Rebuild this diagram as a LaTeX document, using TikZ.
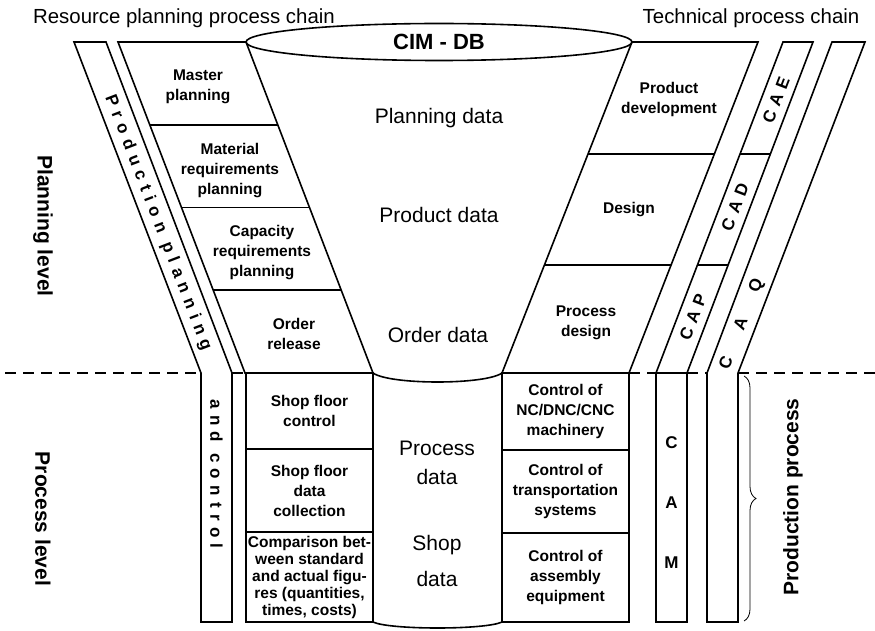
\documentclass[tikz,border=0pt]{standalone}
\usepackage{fontspec}
\setmainfont{Liberation Sans}
\usetikzlibrary{calc,positioning,shapes.geometric,decorations.pathreplacing}

\begin{document}
\begin{tikzpicture}[x=1pt,y=-1pt,line width=1.6pt,
      cell/.style={align=center,inner sep=0pt,
        font=\bfseries\fontsize{15.5}{20}\selectfont},
      cellbox/.style={cell,draw,outer sep=0pt,minimum width=127pt},
      datalbl/.style={align=center,font=\fontsize{21}{25}\selectfont},
      chainlbl/.style={anchor=base,font=\fontsize{20.4}{24}\selectfont},
      levellbl/.style={font=\bfseries\fontsize{21}{24}\selectfont},
      striplbl/.style={inner sep=0pt,
        font=\bfseries\fontsize{17}{20}\selectfont\addfontfeature{LetterSpace=37}},
      levelline/.style={dash pattern=on 11pt off 7pt}
    ]
      \useasboundingbox (0,0) rectangle (875,631);
      \node[chainlbl] (rpc) at (184,23.5) {Resource planning process chain};
      \node[chainlbl] (tpc) at (751,23.5) {Technical process chain};

      \node[draw,ellipse,outer sep=0pt,minimum width=386pt,minimum height=37pt,
        font=\bfseries\fontsize{22}{26}\selectfont] (cimdb) at (439,42) {CIM - DB};
      \coordinate (fl) at (373,373);
      \coordinate (fr) at (502,373);
      \draw (cimdb.west) -- (fl) .. controls (390,385) and (485,385) .. (fr) -- (cimdb.east);

      \coordinate (lt) at (118,42);
      \coordinate (lb) at (245,373);
      \draw (fl) -- (lb) -- (lt) -- (cimdb.west);
      \foreach \t in {0.25,0.5,0.75}
        \draw ($(lt)!\t!(lb)$) -- ($(cimdb.west)!\t!(fl)$);
      \node[cell] (mp) at (198,87) {Master\\planning};
      \node[cell] (mrp) at (230,171) {Material\\requirements\\planning};
      \node[cell] (crp) at (262,253) {Capacity\\requirements\\planning};
      \node[cell] (orel) at (294,334) {Order\\release};

      \coordinate (rt) at (758,42);
      \coordinate (rb) at (629,373);
      \draw (cimdb.east) -- (rt) -- (rb) -- (fr);
      \foreach \t in {0.338,0.674}
        \draw ($(cimdb.east)!\t!(fr)$) -- ($(rt)!\t!(rb)$);
      \node[cell] (pdev) at (669,99) {Product\\development};
      \node[cell] (dsgn) at (629,210) {Design};
      \node[cell] (pdsg) at (586,323) {Process\\design};

      \node[cellbox,minimum height=76pt,anchor=north west] (sfc) at (246,373)
        {Shop floor\\control};
      \node[cellbox,minimum height=83pt,below=0pt of sfc] (sfdc)
        {Shop floor\\data\\collection};
      \node[cellbox,minimum height=90pt,below=0pt of sfdc,
        font=\bfseries\fontsize{15.5}{17}\selectfont] (cmp)
        {Comparison bet-\\ween standard\\and actual figu-\\res (quantities,\\times, costs)};
      \node[cellbox,minimum height=77pt,anchor=north west] (ncm) at (502,373)
        {Control of\\NC/DNC/CNC\\machinery};
      \node[cellbox,minimum height=83pt,below=0pt of ncm] (trs)
        {Control of\\transportation\\systems};
      \node[cellbox,minimum height=89pt,below=0pt of trs] (asm)
        {Control of\\assembly\\equipment};
      \draw (cmp.south east) .. controls (390,630) and (485,630) .. (asm.south west);

      \node[datalbl] (pld) at (439,118) {Planning data};
      \node[datalbl] (prdd) at (439,215) {Product data};
      \node[datalbl] (odd) at (438,335) {Order data};
      \node[datalbl,font=\fontsize{21}{29}\selectfont] (psd) at (437,463) {Process\\data};
      \node[datalbl,font=\fontsize{21}{36}\selectfont] (shd) at (437,561) {Shop\\data};

      \coordinate (ppa) at (74,42);
      \coordinate (ppb) at (106,42);
      \coordinate (ppr) at (232,373);
      \coordinate (ppl) at (201,373);
      \draw (ppa) -- (ppb) -- (ppr) -- (232,622) -- (201,622) -- (ppl) -- cycle;
      \node[striplbl,rotate=-69] (pplan) at (158,223) {Production planning};
      \node[striplbl,rotate=-90] (actl) at (216.5,474) {and control};

      \coordinate (cxa) at (783,42);
      \coordinate (cxb) at (813,42);
      \coordinate (cxc) at (687,373);
      \coordinate (cxd) at (656,373);
      \draw (cxa) -- (cxb) -- (cxc) -- (cxd) -- cycle;
      \foreach \t in {0.338,0.674}
        \draw ($(cxa)!\t!(cxd)$) -- ($(cxb)!\t!(cxc)$);
      \node[striplbl,rotate=69] (cae) at (776,100) {CAE};
      \node[striplbl,rotate=69] (cad) at (735,207) {CAD};
      \node[striplbl,rotate=69] (cap) at (693,317) {CAP};
      \node[draw,outer sep=0pt,minimum width=31pt,minimum height=249pt,
        anchor=north west] (cam) at (cxd) {};
      \node[cell,font=\bfseries\fontsize{17}{60}\selectfont] (camlbl)
        at ($(cam.center)+(0,5)$) {C\\A\\M};

      \coordinate (cqa) at (832,42);
      \coordinate (cqb) at (865,42);
      \coordinate (cqr) at (738,373);
      \coordinate (cql) at (707,373);
      \draw (cqa) -- (cqb) -- (cqr) -- (738,622) -- (707,622) -- (cql) -- cycle;
      \node[cell,font=\bfseries\fontsize{17}{20}\selectfont,rotate=69] (caq)
        at (742,324) {C\hspace{29pt}A\hspace{29pt}Q};

      \draw[levelline] (5,373) -- (ppl);
      \draw[levelline] (ppr) -- (lb);
      \draw[levelline] (rb) -- (cxd);
      \draw[levelline] (cxc) -- (cql);
      \draw[levelline] (cqr) -- (875,373);

      \node[levellbl,rotate=-90] (plvl) at (43,226) {Planning level};
      \node[levellbl,rotate=-90] (prlvl) at (43,519) {Process level};
      \draw[decorate,decoration={brace,amplitude=12pt},line width=0.8pt]
        (744,376) -- (744,621);
      \node[levellbl,rotate=90] (pproc) at (793,497) {Production process};
    \end{tikzpicture}
\end{document}
